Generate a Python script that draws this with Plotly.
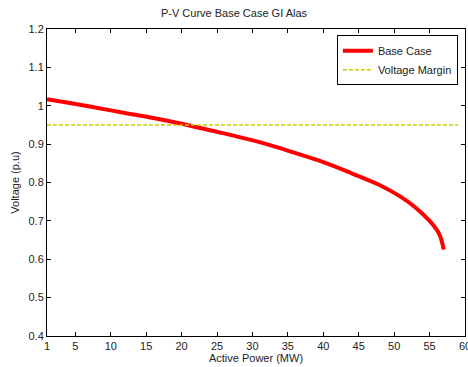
import plotly.graph_objects as go

power_mw = [1, 4, 8, 12, 16, 20, 24, 28, 32, 36, 40, 44, 48, 51, 53, 55, 56, 56.5, 57]
voltage_pu = [1.017, 1.008, 0.995, 0.981, 0.968, 0.953, 0.936, 0.919, 0.900, 0.877,
              0.853, 0.824, 0.793, 0.762, 0.735, 0.700, 0.677, 0.660, 0.625]
margin_x = [1, 59]
margin_v = [0.95, 0.95]

x_ticks = [1, 5, 10, 15, 20, 25, 30, 35, 40, 45, 50, 55, 60]
y_ticks = [0.4, 0.5, 0.6, 0.7, 0.8, 0.9, 1.0, 1.1, 1.2]
y_ticktext = ["0.4", "0.5", "0.6", "0.7", "0.8", "0.9", "1", "1.1", "1.2"]

fig = go.Figure()
fig.add_trace(go.Scatter(x=power_mw, y=voltage_pu, mode="lines", name="Base Case",
                         line=dict(color="#ff0000", width=4, shape="spline")))
fig.add_trace(go.Scatter(x=margin_x, y=margin_v, mode="lines", name="Voltage Margin",
                         line=dict(color="#cccc00", width=1.5, dash="4px,2px")))

axis_common = dict(showline=True, linecolor="black", linewidth=1, mirror="ticks",
                   ticks="inside", ticklen=4, tickcolor="black", showgrid=False,
                   zeroline=False, automargin=False, tickfont=dict(size=11, color="#222"))

fig.update_layout(
    width=468, height=367,
    margin=dict(l=47, r=3, t=29, b=31, autoexpand=False),
    paper_bgcolor="white", plot_bgcolor="white",
    font=dict(family="Liberation Sans, Arial, sans-serif", size=11, color="#222"),
    title=dict(text="P-V Curve Base Case GI Alas", x=0.5, xanchor="center",
               y=0.965, yanchor="middle", font=dict(size=11)),
    xaxis=dict(range=[1, 60], tickvals=x_ticks, ticklabeloverflow="allow",
               title=dict(text="Active Power (MW)", standoff=3, font=dict(size=11)),
               **axis_common),
    yaxis=dict(range=[0.4, 1.2], tickvals=y_ticks, ticktext=y_ticktext,
               title=dict(text="Voltage (p.u)", standoff=6, font=dict(size=11)), **axis_common),
    legend=dict(x=0.983, y=0.98, xanchor="right", yanchor="top",
                bordercolor="black", borderwidth=1, bgcolor="white",
                font=dict(size=11), tracegroupgap=0, itemwidth=30),
    showlegend=True,
)

fig.write_html("out.html")
